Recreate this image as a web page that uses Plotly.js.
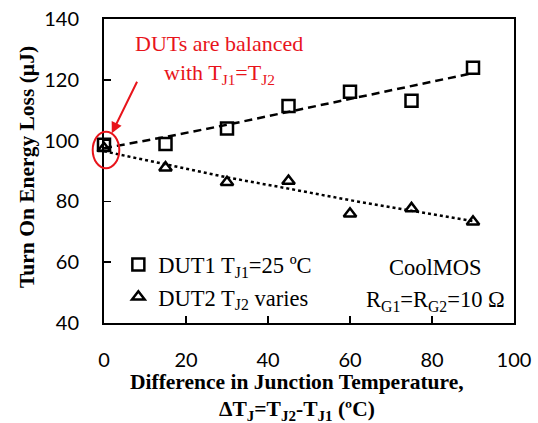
<!DOCTYPE html>
<html><head><meta charset="utf-8">
<script src="https://cdn.plot.ly/plotly-3.0.1.min.js"></script>
<style>html,body{margin:0;padding:0;background:#fff}#chart{width:538px;height:423px}</style>
</head><body><div id="chart"></div>
<script>
// Measured points
const deltaTj = [0, 15, 30, 45, 60, 75, 90];
const dut1Loss = [98.6, 98.9, 104.0, 111.4, 116.1, 113.1, 124.0];
const dut2Loss = [97.5, 91.1, 86.3, 86.7, 75.9, 77.7, 73.3];
// Trend lines
const trendX = [0, 15, 30, 45, 60, 75, 90];
const dut1Trend = [97.5, 101.2, 105.2, 109.4, 113.6, 117.8, 122.2];
const dut2Trend = [96.5, 92.1, 87.9, 84.2, 80.4, 76.9, 73.5];
const xTicks = [0, 20, 40, 60, 80, 100];
const yTicks = [40, 60, 80, 100, 120, 140];
const xInnerTicks = [20, 40, 60, 80];
const yInnerTicks = [60, 80, 100, 120];

const serif = "Liberation Serif, Times New Roman, serif";
const sans = "Lato, Open Sans, sans-serif";
const red = '#e8141b';

const traces = [
  {x: trendX, y: dut1Trend, mode: 'lines', line: {color: '#000', width: 2.5, dash: '8px,5px'}, showlegend: false, hoverinfo: 'skip'},
  {x: trendX, y: dut2Trend, mode: 'lines', line: {color: '#000', width: 2.5, dash: 'dot'}, showlegend: false, hoverinfo: 'skip'},
  {x: deltaTj, y: dut1Loss, mode: 'markers', name: 'DUT1 T<sub>J1</sub>=25 ºC', cliponaxis: false,
   marker: {symbol: 'square-open', size: 12, color: '#000', line: {width: 2.5, color: '#000'}}},
  {x: deltaTj, y: dut2Loss, mode: 'markers', name: 'DUT2 T<sub>J2</sub> varies', cliponaxis: false,
   marker: {symbol: 'triangle-up-open', size: 11, color: '#000', line: {width: 2.5, color: '#000'}}},
  {x: [], y: [], xaxis: 'x2', yaxis: 'y2', showlegend: false, hoverinfo: 'skip'}
];

const tickFont = {family: sans, size: 20, color: '#000'};
const layout = {
  width: 538, height: 423,
  margin: {l: 104, r: 24, t: 19, b: 100},
  paper_bgcolor: '#fff', plot_bgcolor: '#fff',
  showlegend: true,
  legend: {x: 0.035, y: 0.262, xanchor: 'left', yanchor: 'top', bgcolor: 'rgba(0,0,0,0)',
           font: {family: serif, size: 22.5, color: '#000'}, tracegroupgap: 0, itemwidth: 30},
  xaxis: {range: [0, 100], tickvals: xTicks, ticks: 'outside', ticklen: 18, tickcolor: 'rgba(0,0,0,0)',
          showline: true, linecolor: 'black', linewidth: 2, mirror: true, showgrid: false, zeroline: false, tickfont: tickFont},
  yaxis: {range: [40, 140], tickvals: yTicks, ticks: 'outside', ticklen: 19, tickcolor: 'rgba(0,0,0,0)',
          showline: true, linecolor: 'black', linewidth: 2, mirror: true, showgrid: false, zeroline: false, tickfont: tickFont},
  xaxis2: {overlaying: 'x', range: [0, 100], tickvals: xInnerTicks, ticks: 'inside', ticklen: 7, tickwidth: 1.5,
           tickcolor: '#000', showticklabels: false, showline: false, showgrid: false, zeroline: false, anchor: 'y2'},
  yaxis2: {overlaying: 'y', range: [40, 140], tickvals: yInnerTicks, ticks: 'inside', ticklen: 7, tickwidth: 1.5,
           tickcolor: '#000', showticklabels: false, showline: false, showgrid: false, zeroline: false, anchor: 'x2'},
  shapes: [
    {type: 'circle', xref: 'paper', yref: 'paper', x0: (92.7-104)/410, x1: (119.3-104)/410,
     y0: (323-168.3)/304, y1: (323-131.7)/304, line: {color: red, width: 2}}
  ],
  annotations: [
    {text: 'DUTs are balanced', xref: 'paper', yref: 'paper', x: (219-104)/410, y: (323-43)/304,
     xanchor: 'center', yanchor: 'middle', showarrow: false, font: {family: serif, size: 22, color: red}},
    {text: 'with T<sub>J1</sub>=T<sub>J2</sub>', xref: 'paper', yref: 'paper', x: (219-104)/410, y: (323-74)/304,
     xanchor: 'center', yanchor: 'middle', showarrow: false, font: {family: serif, size: 22, color: red}},
    {text: '', x: 1.9, y: 102.4, xref: 'x', yref: 'y', ax: 26, ay: -53,
     showarrow: true, arrowhead: 2, arrowsize: 1.1, arrowwidth: 2, arrowcolor: red},
    {text: 'CoolMOS', xref: 'paper', yref: 'paper', x: (435-104)/410, y: (323-267)/304,
     xanchor: 'center', yanchor: 'middle', showarrow: false, font: {family: serif, size: 22.5, color: '#000'}},
    {text: 'R<sub>G1</sub>=R<sub>G2</sub>=10 Ω', xref: 'paper', yref: 'paper', x: (435-104)/410, y: (323-301)/304,
     xanchor: 'center', yanchor: 'middle', showarrow: false, font: {family: serif, size: 22.5, color: '#000'}},
    {text: '<b>Difference in Junction Temperature,</b>', xref: 'paper', yref: 'paper', x: (297-104)/410, y: (323-382)/304,
     xanchor: 'center', yanchor: 'middle', showarrow: false, font: {family: serif, size: 21.5, color: '#000'}},
    {text: '<b>ΔT<sub>J</sub>=T<sub>J2</sub>-T<sub>J1</sub> (ºC)</b>', xref: 'paper', yref: 'paper', x: (297-104)/410, y: (323-410)/304,
     xanchor: 'center', yanchor: 'middle', showarrow: false, font: {family: serif, size: 21.5, color: '#000'}},
    {text: '<b>Turn On Energy Loss (µJ)</b>', xref: 'paper', yref: 'paper', x: (27-104)/410, y: (323-167)/304,
     xanchor: 'center', yanchor: 'middle', textangle: -90, showarrow: false, font: {family: serif, size: 21.5, color: '#000'}}
  ]
};
Plotly.newPlot('chart', traces, layout, {displayModeBar: false, staticPlot: true});
</script></body></html>
